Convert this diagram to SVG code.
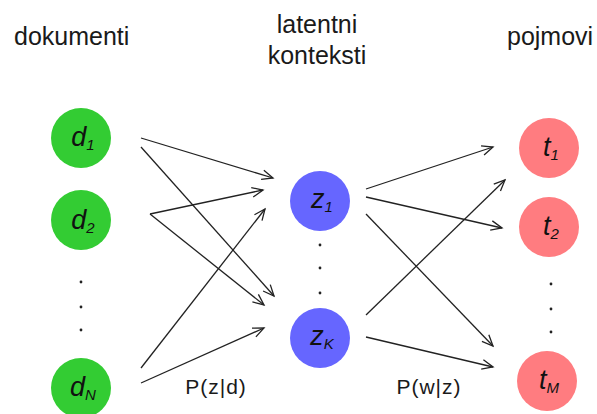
<svg xmlns="http://www.w3.org/2000/svg" width="597" height="414" viewBox="0 0 597 414">
<defs>
<style>
.title{font-family:"Liberation Sans",Arial,sans-serif;font-size:25px;fill:#1a1a1a}
.lbl{font-family:"Liberation Sans",Arial,sans-serif;font-size:21px;fill:#1a1a1a;letter-spacing:1px}
.nl{font-family:"Liberation Sans",Arial,sans-serif;font-style:italic;font-size:27px;fill:#111;text-anchor:middle}
.sub{font-size:15px}
.doc{fill:#33cc33}
.lat{fill:#6666ff}
.term{fill:#ff7c80}
.dot{fill:#222}
.conn line{stroke:#222;stroke-width:1.3;marker-end:url(#arr)}
</style>
<marker id="arr" markerUnits="userSpaceOnUse" markerWidth="14" markerHeight="14" viewBox="-12 -7 14 14" refX="0" refY="0" orient="auto">
<path d="M-11,-4.8 L0,0 L-11,4.8" fill="none" stroke="#222" stroke-width="1.3"/>
</marker>
</defs>
<rect width="597" height="414" fill="#fff"/>
<g id="titles">
<text class="title" x="14" y="45">dokumenti</text>
<text class="title" x="317" y="33" text-anchor="middle">latentni</text>
<text class="title" x="317" y="64" text-anchor="middle">konteksti</text>
<text class="title" x="507" y="45">pojmovi</text>
</g>
<g id="connectors" class="conn">
<line x1="141" y1="138" x2="273" y2="178"/>
<line x1="141" y1="147" x2="274" y2="296"/>
<line x1="150" y1="214" x2="263" y2="190"/>
<line x1="150" y1="214" x2="264" y2="305"/>
<line x1="141" y1="368" x2="265" y2="209"/>
<line x1="141" y1="383" x2="264" y2="328"/>
<line x1="366" y1="189" x2="493" y2="147"/>
<line x1="366" y1="197" x2="502" y2="228"/>
<line x1="366" y1="214" x2="493" y2="346"/>
<line x1="366" y1="315" x2="505" y2="180"/>
<line x1="366" y1="337" x2="493" y2="367"/>
</g>
<g id="edge-labels">
<text class="lbl" x="216" y="394" text-anchor="middle">P(z|d)</text>
<text class="lbl" x="429" y="394" text-anchor="middle">P(w|z)</text>
</g>
<g id="d1"><circle class="doc" cx="81" cy="138" r="30"/><text class="nl" x="83" y="146">d<tspan class="sub" dy="4">1</tspan></text></g>
<g id="d2"><circle class="doc" cx="81" cy="220" r="30"/><text class="nl" x="83" y="229">d<tspan class="sub" dy="4">2</tspan></text></g>
<g id="dots-d"><circle class="dot" cx="81" cy="282" r="1.4"/><circle class="dot" cx="81" cy="307" r="1.4"/><circle class="dot" cx="81" cy="330" r="1.4"/></g>
<g id="dN"><circle class="doc" cx="81" cy="388" r="30"/><text class="nl" x="83" y="396">d<tspan class="sub" dy="4">N</tspan></text></g>
<g id="z1"><circle class="lat" cx="320" cy="201" r="30"/><text class="nl" x="322" y="208">z<tspan class="sub" dy="4">1</tspan></text></g>
<g id="dots-z"><circle class="dot" cx="320" cy="245" r="1.4"/><circle class="dot" cx="320" cy="268" r="1.4"/><circle class="dot" cx="320" cy="293" r="1.4"/></g>
<g id="zK"><circle class="lat" cx="320" cy="338" r="30"/><text class="nl" x="322" y="345">z<tspan class="sub" dy="4">K</tspan></text></g>
<g id="t1"><circle class="term" cx="549" cy="148" r="30"/><text class="nl" x="551" y="156">t<tspan class="sub" dy="4">1</tspan></text></g>
<g id="t2"><circle class="term" cx="549" cy="227" r="30"/><text class="nl" x="551" y="235">t<tspan class="sub" dy="4">2</tspan></text></g>
<g id="dots-t"><circle class="dot" cx="551" cy="284" r="1.4"/><circle class="dot" cx="551" cy="309" r="1.4"/><circle class="dot" cx="551" cy="332" r="1.4"/></g>
<g id="tM"><circle class="term" cx="547" cy="381" r="30"/><text class="nl" x="549" y="389">t<tspan class="sub" dy="4">M</tspan></text></g>
</svg>
